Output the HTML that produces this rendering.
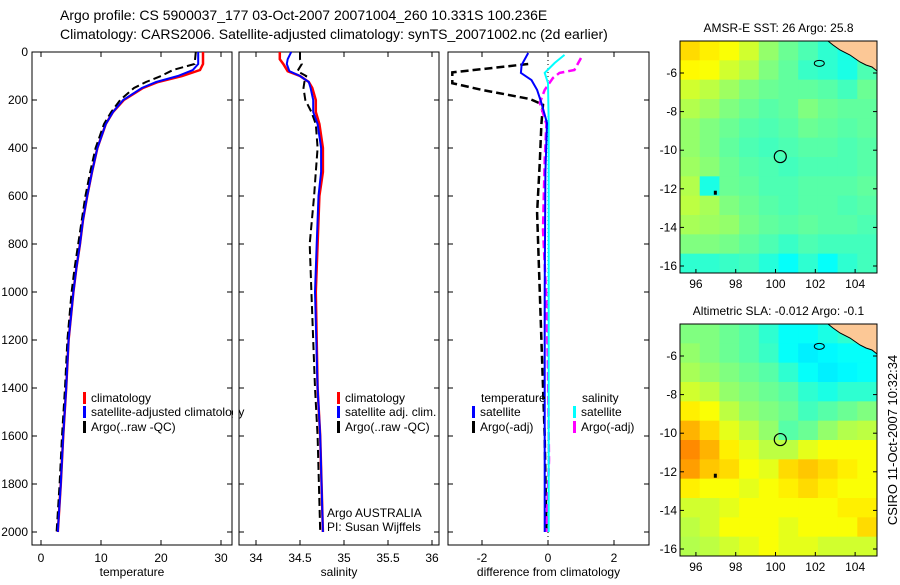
<!DOCTYPE html>
<html><head><meta charset="utf-8"><style>
body{margin:0;background:#fff;}
svg{font-family:"Liberation Sans",sans-serif;}
</style></head><body>
<svg id="fig" width="900" height="580" xmlns="http://www.w3.org/2000/svg">
<text x="60" y="20" font-size="14">Argo profile: CS 5900037_177 03-Oct-2007 20071004_260 10.331S 100.236E</text>
<text x="60" y="39" font-size="14">Climatology: CARS2006. Satellite-adjusted climatology: synTS_20071002.nc (2d earlier)</text>
<g id="g"></g>
<text transform="translate(897,440) rotate(-90)" text-anchor="middle" font-size="13">CSIRO 11-Oct-2007 10:32:34</text>
</svg>
<script>
// ---- data ----
const tDepth = [0,50,75,100,125,150,200,250,300,400,500,600,700,800,900,1000,1200,1400,1600,1800,2000];
const tClim  = [27,27,26.5,23.5,19.5,17,13.8,12,10.8,9.4,8.5,7.7,7,6.5,5.9,5.4,4.6,4.2,3.7,3.3,2.8];
const tSat   = [26.2,26.2,25.3,22.8,19.2,16.8,13.7,12,10.8,9.4,8.5,7.7,7,6.5,5.9,5.4,4.6,4.2,3.7,3.3,2.8];
const tArgo  = [25.8,25.6,22,20,17.5,15.5,13.2,11.7,10.5,9.1,8.2,7.4,6.8,6.2,5.6,5.1,4.4,4.0,3.5,3.1,2.6];
const sDepth = [0,30,50,80,100,125,150,200,250,300,400,500,600,800,1000,1400,1600,2000];
const sClim  = [34.27,34.27,34.31,34.36,34.5,34.6,34.64,34.68,34.68,34.72,34.76,34.76,34.72,34.7,34.68,34.7,34.73,34.76];
const sSat   = [34.4,34.36,34.35,34.38,34.5,34.6,34.62,34.65,34.65,34.7,34.74,34.74,34.71,34.69,34.67,34.7,34.73,34.76];
const sArgo  = [34.5,34.5,34.52,34.47,34.57,34.55,34.54,34.56,34.63,34.68,34.7,34.68,34.66,34.61,34.63,34.67,34.7,34.73];
const dtDepth = [4,54,87,117,158,212,296,500,1000,2000];
const dtSat   = [-0.6,-0.8,-0.82,-0.5,-0.33,-0.2,-0.03,-0.08,-0.1,-0.1];
const daDepth = [50,85,130,158,196,220,300,458,670,1200,1600,2000];
const daTemp  = [-0.6,-2.9,-2.9,-2.0,-0.55,-0.15,-0.2,-0.25,-0.33,-0.2,-0.1,-0.05];
const dsDepth = [12,46,87,129,300,1000,2000];
const dsSat   = [0.5,0.2,-0.1,0,0.02,0.02,0.02];
const dmDepth = [25,75,87,108,158,212,300,450,740,1030,1320,1700,2000];
const dmSal   = [1.0,0.8,0.35,0.15,-0.1,-0.25,-0.05,-0.1,-0.15,-0.05,0,0.03,-0.05];
const tTicks = [0,10,20,30], sTicks=[34,34.5,35,35.5,36], dTicks=[-2,0,2];
const depthTicks=[0,200,400,600,800,1000,1200,1400,1600,1800,2000];
const sstGrid=[
[.66,.64,.62,.58,.52,.48,.45,.42,.40,.45],
[.63,.62,.58,.55,.50,.47,.43,.42,.40,.45],
[.58,.56,.53,.50,.48,.47,.47,.46,.44,.48],
[.55,.53,.50,.48,.46,.47,.50,.48,.47,.47],
[.52,.50,.48,.46,.45,.46,.48,.47,.46,.47],
[.52,.50,.47,.45,.44,.45,.46,.46,.45,.46],
[.53,.51,.48,.46,.45,.44,.45,.45,.45,.46],
[.55,.40,.48,.47,.45,.45,.46,.46,.46,.47],
[.56,.54,.50,.48,.46,.45,.46,.46,.45,.46],
[.54,.53,.52,.49,.47,.46,.47,.46,.46,.45],
[.50,.50,.49,.47,.45,.43,.45,.44,.44,.44],
[.42,.42,.43,.44,.41,.38,.42,.38,.42,.44]];
const slaGrid=[
[.50,.50,.48,.46,.42,.38,.38,.40,.42,.40],
[.52,.50,.48,.46,.43,.38,.36,.37,.38,.38],
[.54,.52,.50,.48,.46,.42,.38,.36,.37,.38],
[.58,.56,.52,.50,.48,.46,.42,.40,.42,.42],
[.64,.62,.56,.52,.50,.48,.44,.46,.48,.50],
[.70,.66,.60,.56,.52,.46,.48,.52,.55,.56],
[.74,.70,.64,.60,.56,.56,.60,.62,.62,.62],
[.72,.68,.66,.62,.60,.66,.68,.66,.64,.62],
[.64,.62,.62,.60,.62,.64,.66,.64,.62,.62],
[.58,.58,.60,.62,.62,.62,.62,.62,.64,.64],
[.56,.58,.62,.62,.62,.60,.62,.62,.62,.66],
[.55,.56,.58,.60,.62,.60,.60,.58,.58,.58]];
const lonTicks=[96,98,100,102,104], latTicks=[-6,-8,-10,-12,-14,-16];

// ---- helpers ----
const NS="http://www.w3.org/2000/svg", G=document.getElementById('g');
function mk(tag,attrs,parent){const e=document.createElementNS(NS,tag);for(const k in attrs)e.setAttribute(k,attrs[k]);(parent||G).appendChild(e);return e;}
function txt(x,y,s,size,anchor,name){const e=mk('text',{x:x,y:y,'font-size':size,'text-anchor':anchor||'start'});e.textContent=s;


return e;}
const yD=d=>52+d*0.24;
const TOP=52,BOT=545;
function panel(l,r,xf,ticks,label,name){
  const f=mk('rect',{x:l,y:TOP,width:r-l,height:BOT-TOP,fill:'none',stroke:'#000','stroke-width':1});
  
  
  ticks.forEach(t=>{const x=xf(t);mk('line',{x1:x,x2:x,y1:BOT,y2:BOT-5,stroke:'#000'});mk('line',{x1:x,x2:x,y1:TOP,y2:TOP+5,stroke:'#000'});txt(x,562,String(t),12,'middle',name+'-x-tick');});
  depthTicks.forEach(d=>{const y=yD(d);mk('line',{x1:l,x2:l+5,y1:y,y2:y,stroke:'#000'});mk('line',{x1:r,x2:r-5,y1:y,y2:y,stroke:'#000'});});
  txt((l+r)/2,576,label,12,'middle',name+'-x-axis-title');
}
function line(depths,vals,xf,color,dash,w,name){
  const pts=depths.map((d,i)=>xf(vals[i]).toFixed(1)+','+yD(d).toFixed(1)).join(' ');
  const e=mk('polyline',{points:pts,fill:'none',stroke:color,'stroke-width':w||2});
  if(dash)e.setAttribute('stroke-dasharray',dash);
  
  
}
function legend(x,y,color,label,name){mk('rect',{x:x,y:y-10,width:3,height:12,fill:color});txt(x+8,y,label,12,'start',name);}

// panel 1 temperature
const xT=v=>41+v*6;
panel(32,232,xT,tTicks,'temperature','temperature-panel');
depthTicks.forEach(d=>txt(28,yD(d)+4,String(d),12,'end','depth-tick'));
line(tDepth,tClim,xT,'#f00',null,2.5,'temp-climatology-line');
line(tDepth,tArgo,xT,'#000','8,4',2,'temp-argo-line');
line(tDepth,tSat,xT,'#00f',null,2,'temp-satellite-line');
legend(83,402,'#f00','climatology','legend-climatology');
legend(83,416,'#00f','satellite-adjusted climatology','legend-satellite');
legend(83,431,'#000','Argo(..raw -QC)','legend-argo');
mk('rect',{x:233,y:390,width:6,height:50,fill:'#fff'});

// panel 2 salinity
const xS=v=>256+(v-34)*88;
panel(239,439,xS,sTicks,'salinity','salinity-panel');
line(sDepth,sClim,xS,'#f00',null,2.5,'sal-climatology-line');
line(sDepth,sArgo,xS,'#000','8,4',2,'sal-argo-line');
line(sDepth,sSat,xS,'#00f',null,2,'sal-satellite-line');
legend(337,402,'#f00','climatology','legend-sal-climatology');
legend(337,416,'#00f','satellite adj. clim.','legend-sal-satellite');
legend(337,431,'#000','Argo(..raw -QC)','legend-sal-argo');
txt(327,517,'Argo AUSTRALIA',12,'start','argo-australia-label');
txt(327,531,'PI: Susan Wijffels',12,'start','pi-label');

// panel 3 difference
const xDf=v=>548+v*33;
panel(448,649,xDf,dTicks,'difference from climatology','difference-panel');
mk('line',{x1:548,x2:548,y1:TOP,y2:BOT,stroke:'#000','stroke-dasharray':'1,3'});
line(daDepth,daTemp,xDf,'#000','8,4',2.5,'diff-temp-argo-line');
line(dmDepth,dmSal,xDf,'#f0f','8,4',2.5,'diff-sal-argo-line');
line(dsDepth,dsSat,xDf,'#0ff',null,2,'diff-sal-satellite-line');
line(dtDepth,dtSat,xDf,'#00f',null,2,'diff-temp-satellite-line');
txt(481,402,'temperature',12,'start','legend-temperature-header');
legend(472,416,'#00f','satellite','legend-temp-satellite');
legend(472,431,'#000','Argo(-adj)','legend-temp-argo');
txt(582,402,'salinity',12,'start','legend-salinity-header');
legend(573,416,'#0ff','satellite','legend-sal-sat');
legend(573,431,'#f0f','Argo(-adj)','legend-sal-argo-adj');

// maps
function jet(v){const r=Math.min(1,Math.max(0,Math.min(4*v-1.5,-4*v+4.5))),g=Math.min(1,Math.max(0,Math.min(4*v-0.5,-4*v+3.5))),b=Math.min(1,Math.max(0,Math.min(4*v+0.5,-4*v+2.5)));return `rgb(${Math.round(r*255)},${Math.round(g*255)},${Math.round(b*255)})`;}
function map(top,grid,title,name){
  const L=680,R=877,B=top+232;
  const lonX=lon=>L+(lon-95.2)*19.9, latY=lat=>top+32+(-6-lat)*19.3;
  const nr=grid.length,nc=grid[0].length,cw=(R-L)/nc,ch=(B-top)/nr;
  grid.forEach((row,i)=>row.forEach((v,j)=>{
    const c=mk('rect',{x:L+j*cw,y:top+i*ch,width:cw+0.5,height:ch+0.5,fill:jet(v)});
    
    
  }));
  const land=mk('polygon',{points:`828,${top} ${R},${top} ${R},${top+30} 872,${top+26} 866,${top+24} 860,${top+21} 850,${top+14} 840,${top+9} 833,${top+4}`,fill:'#fcc896',stroke:'#000','stroke-width':1});
  
  
  mk('ellipse',{cx:lonX(102.2),cy:latY(-5.5),rx:5,ry:3,fill:'none',stroke:'#000'});
  mk('rect',{x:lonX(96.9),y:latY(-12.1),width:3,height:4,fill:'#000'});
  const c=mk('circle',{cx:lonX(100.24),cy:latY(-10.33),r:6,fill:'none',stroke:'#000','stroke-width':1.2});
  
  
  const f=mk('rect',{x:L,y:top,width:R-L,height:B-top,fill:'none',stroke:'#000'});
  
  
  lonTicks.forEach(t=>{const x=lonX(t);mk('line',{x1:x,x2:x,y1:B,y2:B-4,stroke:'#000'});txt(x,B+15,String(t),12,'middle',name+'-lon-tick');});
  latTicks.forEach(t=>{const y=latY(t);mk('line',{x1:R,x2:R-4,y1:y,y2:y,stroke:'#000'});mk('line',{x1:L,x2:L+4,y1:y,y2:y,stroke:'#000'});txt(L-3,y+4,String(t),12,'end',name+'-lat-tick');});
  txt((L+R)/2,top-9,title,12,'middle',name+'-title');
}
map(41,sstGrid,'AMSR-E SST: 26 Argo: 25.8','sst-map');
map(324,slaGrid,'Altimetric SLA: -0.012 Argo: -0.1','sla-map');
</script>
</body></html>
